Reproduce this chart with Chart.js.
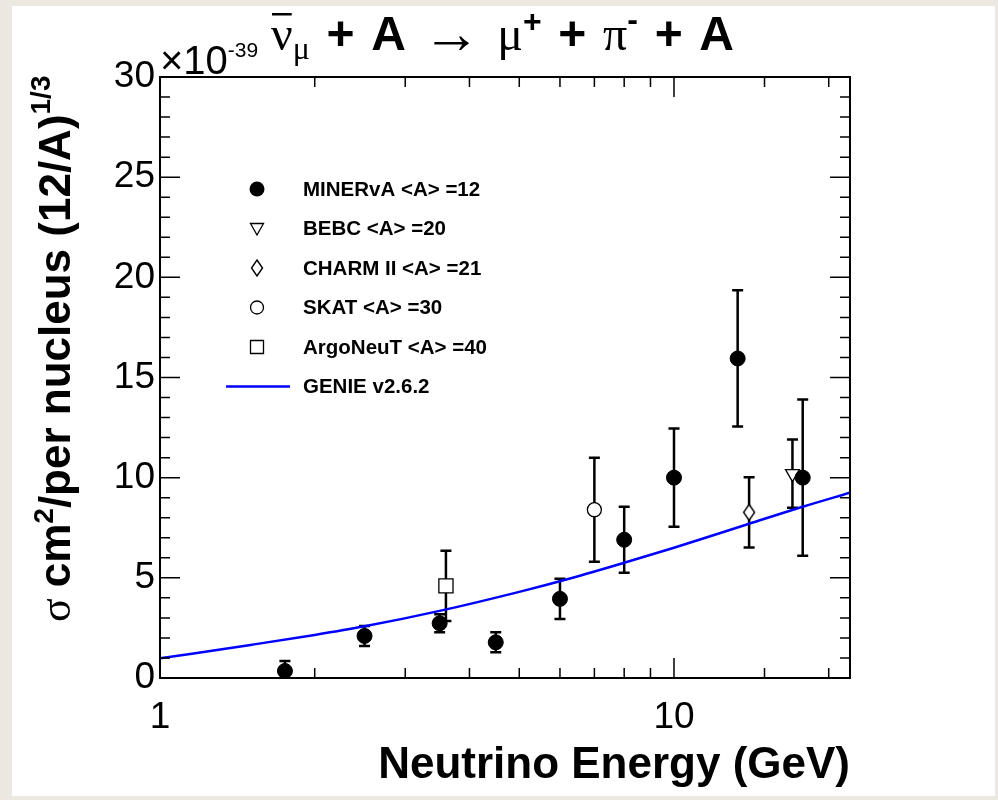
<!DOCTYPE html>
<html>
<head>
<meta charset="utf-8">
<script src="https://cdn.jsdelivr.net/npm/chart.js@4/dist/chart.umd.min.js"></script>
<style>
  body { margin: 0; background: #ece8e1; }
  canvas { display: block; }
</style>
</head>
<body>
<canvas id="c" width="998" height="800"></canvas>
<script>
// data (cross section, units of 1e-39 cm2)
const minervaE = [1.75, 2.5, 3.5, 4.5, 6.0, 8.0, 10.0, 13.3, 17.8];
const minervaY = [0.35, 2.1, 2.73, 1.78, 3.95, 6.9, 10.0, 15.95, 10.0];
const minervaErr = [0.5, 0.5, 0.45, 0.5, 1.0, 1.65, 2.45, 3.4, 3.9];

const bebcE = [17.0];
const bebcY = [10.2];
const bebcErr = [1.7];

const charmE = [14.0];
const charmY = [8.27];
const charmErr = [1.75];

const skatE = [7.0];
const skatY = [8.4];
const skatErr = [2.6];

const argoE = [3.6];
const argoY = [4.6];
const argoErr = [1.75];

const genieE = [1, 1.5, 2, 2.5, 3.5, 5, 6.3, 8, 10, 14, 17.8, 22];
const genieY = [0.98, 1.65, 2.15, 2.58, 3.35, 4.3, 4.98, 5.75, 6.5, 7.7, 8.55, 9.25];

const yTicks = [0, 5, 10, 15, 20, 25, 30];
const xTickLabels = [1, 10];

const sans = '"Liberation Sans", Arial, sans-serif';
const serif = '"Liberation Serif", "DejaVu Serif", serif';

function pts(xs, ys) {
    return xs.map((x, i) => ({ x: x, y: ys[i] }));
}

// diamond marker (taller than wide)
function makeDiamond() {
    const c = document.createElement('canvas');
    c.width = 14; c.height = 18;
    const g = c.getContext('2d');
    g.beginPath();
    g.moveTo(7, 1); g.lineTo(12.5, 9); g.lineTo(7, 17); g.lineTo(1.5, 9); g.closePath();
    g.fillStyle = '#fff'; g.fill();
    g.lineWidth = 1.4; g.strokeStyle = '#000'; g.stroke();
    return c;
}
const diamond = makeDiamond();

const datasets = [
    { label: 'GENIE v2.6.2', type: 'line', data: pts(genieE, genieY), borderColor: '#0000ff',
      borderWidth: 2.5, pointRadius: 0, showLine: true, cubicInterpolationMode: 'monotone', order: 5 },
    { label: 'MINERvA <A> =12', data: pts(minervaE, minervaY), err: minervaErr, pointStyle: 'circle',
      pointRadius: 7.5, backgroundColor: '#000', borderColor: '#000', borderWidth: 1 },
    { label: 'BEBC <A> =20', data: pts(bebcE, bebcY), err: bebcErr, pointStyle: 'triangle', rotation: 180,
      pointRadius: 8, backgroundColor: '#fff', borderColor: '#000', borderWidth: 1.3 },
    { label: 'CHARM II <A> =21', data: pts(charmE, charmY), err: charmErr, pointStyle: diamond,
      pointRadius: 8, backgroundColor: '#fff', borderColor: '#000' },
    { label: 'SKAT <A> =30', data: pts(skatE, skatY), err: skatErr, pointStyle: 'circle',
      pointRadius: 7, backgroundColor: '#fff', borderColor: '#000', borderWidth: 1.3 },
    { label: 'ArgoNeuT <A> =40', data: pts(argoE, argoY), err: argoErr, pointStyle: 'rect',
      pointRadius: 10, backgroundColor: '#fff', borderColor: '#000', borderWidth: 1.3 }
];

function drawMarker(ctx, kind, x, y) {
    ctx.save();
    ctx.strokeStyle = '#000';
    ctx.fillStyle = '#fff';
    ctx.lineWidth = 1.3;
    ctx.beginPath();
    if (kind === 'fcircle') {
        ctx.arc(x, y, 7.5, 0, Math.PI * 2);
        ctx.fillStyle = '#000'; ctx.fill();
    } else if (kind === 'ocircle') {
        ctx.arc(x, y, 6.5, 0, Math.PI * 2);
        ctx.fill(); ctx.stroke();
    } else if (kind === 'tri') {
        ctx.moveTo(x - 6.5, y - 5); ctx.lineTo(x + 6.5, y - 5); ctx.lineTo(x, y + 6.5); ctx.closePath();
        ctx.fill(); ctx.stroke();
    } else if (kind === 'diamond') {
        ctx.drawImage(diamond, x - 7, y - 9);
    } else if (kind === 'square') {
        ctx.rect(x - 6.5, y - 6.5, 13, 13);
        ctx.fill(); ctx.stroke();
    } else if (kind === 'line') {
        ctx.moveTo(x - 31, y); ctx.lineTo(x + 33, y);
        ctx.strokeStyle = '#0000ff'; ctx.lineWidth = 2.5; ctx.stroke();
    }
    ctx.restore();
}

// draws mixed text runs along the baseline; spreads extra space so the line ends at 'end'
function runs(ctx, parts, x, y, end) {
    let natural = 0, gaps = 0;
    parts.forEach((p, i) => {
        ctx.font = p.font;
        natural += ctx.measureText(p.t).width + (p.gap || 0);
        if (i < parts.length - 1 && !p.tight) gaps++;
    });
    const extra = end && gaps ? (end - x - natural) / gaps : 0;
    const starts = [];
    parts.forEach(p => {
        ctx.font = p.font;
        starts.push(x);
        ctx.fillText(p.t, x, y + (p.dy || 0));
        x += ctx.measureText(p.t).width + (p.gap || 0) + (p.tight ? 0 : extra);
    });
    return starts;
}

const rootStyle = {
    id: 'rootStyle',
    beforeDraw(chart) {
        const ctx = chart.ctx;
        ctx.save();
        ctx.fillStyle = '#ece8e1';
        ctx.fillRect(0, 0, chart.width, chart.height);
        ctx.fillStyle = '#fff';
        ctx.fillRect(12, 6, 983, 790);
        ctx.restore();
    },
    beforeDatasetsDraw(chart) {
        // error bars
        const ctx = chart.ctx;
        const xs = chart.scales.x, ys = chart.scales.y;
        ctx.save();
        ctx.strokeStyle = '#000';
        ctx.lineWidth = 2.5;
        chart.data.datasets.forEach(ds => {
            if (!ds.err) return;
            ds.data.forEach((p, i) => {
                const px = xs.getPixelForValue(p.x);
                const lo = Math.max(p.y - ds.err[i], 0);
                const y1 = ys.getPixelForValue(lo);
                const y2 = ys.getPixelForValue(p.y + ds.err[i]);
                ctx.beginPath();
                ctx.moveTo(px, y1); ctx.lineTo(px, y2);
                if (p.y - ds.err[i] > 0) { ctx.moveTo(px - 5.5, y1); ctx.lineTo(px + 5.5, y1); }
                ctx.moveTo(px - 5.5, y2); ctx.lineTo(px + 5.5, y2);
                ctx.stroke();
            });
        });
        ctx.restore();
    },
    afterDraw(chart) {
        const ctx = chart.ctx;
        const a = chart.chartArea;
        const xs = chart.scales.x, ys = chart.scales.y;
        ctx.save();
        ctx.strokeStyle = '#000';
        ctx.fillStyle = '#000';
        ctx.lineWidth = 2;
        ctx.strokeRect(a.left, a.top, a.right - a.left, a.bottom - a.top);

        // y ticks inside, both sides
        ctx.lineWidth = 1.5;
        ctx.beginPath();
        for (let v = 0; v <= 30; v++) {
            const py = ys.getPixelForValue(v);
            const len = v % 5 === 0 ? 20 : 10;
            ctx.moveTo(a.left, py); ctx.lineTo(a.left + len, py);
            ctx.moveTo(a.right, py); ctx.lineTo(a.right - len, py);
        }
        // x ticks inside, both sides
        xs.ticks.forEach(t => {
            const px = xs.getPixelForValue(t.value);
            if (px <= a.left + 1 || px >= a.right - 1) return;
            const len = t.value === 10 ? 20 : 10;
            ctx.moveTo(px, a.bottom); ctx.lineTo(px, a.bottom - len);
            ctx.moveTo(px, a.top); ctx.lineTo(px, a.top + len);
        });
        ctx.stroke();

        // legend
        const rows = [
            ['fcircle', datasets[1].label], ['tri', datasets[2].label], ['diamond', datasets[3].label],
            ['ocircle', datasets[4].label], ['square', datasets[5].label], ['line', datasets[0].label]
        ];
        ctx.font = 'bold 20.5px ' + sans;
        ctx.textBaseline = 'middle';
        rows.forEach((r, i) => {
            const y = 189 + i * 39.5;
            drawMarker(ctx, r[0], 257, y);
            ctx.fillStyle = '#000';
            ctx.fillText(r[1], 303, y + 1);
        });

        // exponent label
        ctx.textBaseline = 'alphabetic';
        runs(ctx, [
            { t: '\u00d710', font: '40px ' + sans },
            { t: '-39', font: '21px ' + sans, dy: -17 }
        ], 160, 74);

        // title
        const tx = 271, ty = 50;
        const st = runs(ctx, [
            { t: '\u03bd', font: '48px ' + serif, tight: true },
            { t: '\u03bc', font: '32px ' + serif, dy: 9 },
            { t: '+', font: 'bold 48px ' + sans },
            { t: 'A', font: 'bold 48px ' + sans },
            { t: '\u2192', font: '58px ' + serif, dy: 3 },
            { t: '\u03bc', font: '48px ' + serif, tight: true },
            { t: '+', font: 'bold 32px ' + sans, dy: -18 },
            { t: '+', font: 'bold 48px ' + sans },
            { t: '\u03c0', font: '48px ' + serif, tight: true },
            { t: '-', font: 'bold 32px ' + sans, dy: -20 },
            { t: '+', font: 'bold 48px ' + sans },
            { t: 'A', font: 'bold 48px ' + sans }
        ], tx, ty, 734);
        ctx.font = '48px ' + serif;
        ctx.fillRect(st[0] + 1, 13, ctx.measureText('\u03bd').width - 2, 2.5);

        // x axis title
        ctx.font = 'bold 44px ' + sans;
        ctx.textAlign = 'right';
        ctx.fillText('Neutrino Energy (GeV)', a.right, 778);
        ctx.textAlign = 'left';

        // y axis title, rotated
        ctx.translate(70, 622);
        ctx.rotate(-Math.PI / 2);
        runs(ctx, [
            { t: '\u03c3 ', font: '44px ' + serif },
            { t: 'cm', font: 'bold 44px ' + sans, tight: true },
            { t: '2', font: 'bold 28px ' + sans, dy: -17, tight: true },
            { t: '/per nucleus (12/A)', font: 'bold 44px ' + sans, tight: true },
            { t: '1/3', font: 'bold 28px ' + sans, dy: -20 }
        ], 0, 0);
        ctx.restore();
    }
};

new Chart(document.getElementById('c'), {
    type: 'scatter',
    data: { datasets: datasets },
    plugins: [rootStyle],
    options: {
        responsive: false,
        devicePixelRatio: 1,
        animation: false,
        layout: { padding: { left: 0, top: 77, right: 148, bottom: 0 } },
        plugins: { legend: { display: false }, tooltip: { enabled: false } },
        scales: {
            x: {
                type: 'logarithmic', min: 1, max: 22,
                grid: { display: false, drawTicks: false }, border: { display: false },
                afterFit(s) { s.height = 122; },
                ticks: {
                    autoSkip: false, maxRotation: 0, padding: 18, color: '#000',
                    font: { family: sans, size: 37 },
                    callback: v => xTickLabels.includes(v) ? String(v) : ''
                }
            },
            y: {
                min: 0, max: 30,
                grid: { display: false, drawTicks: false }, border: { display: false },
                afterFit(s) { s.width = 160; },
                afterBuildTicks(s) { s.ticks = yTicks.map(v => ({ value: v })); },
                ticks: { padding: 5, color: '#000', font: { family: sans, size: 37 } }
            }
        }
    }
});
</script>
</body>
</html>
